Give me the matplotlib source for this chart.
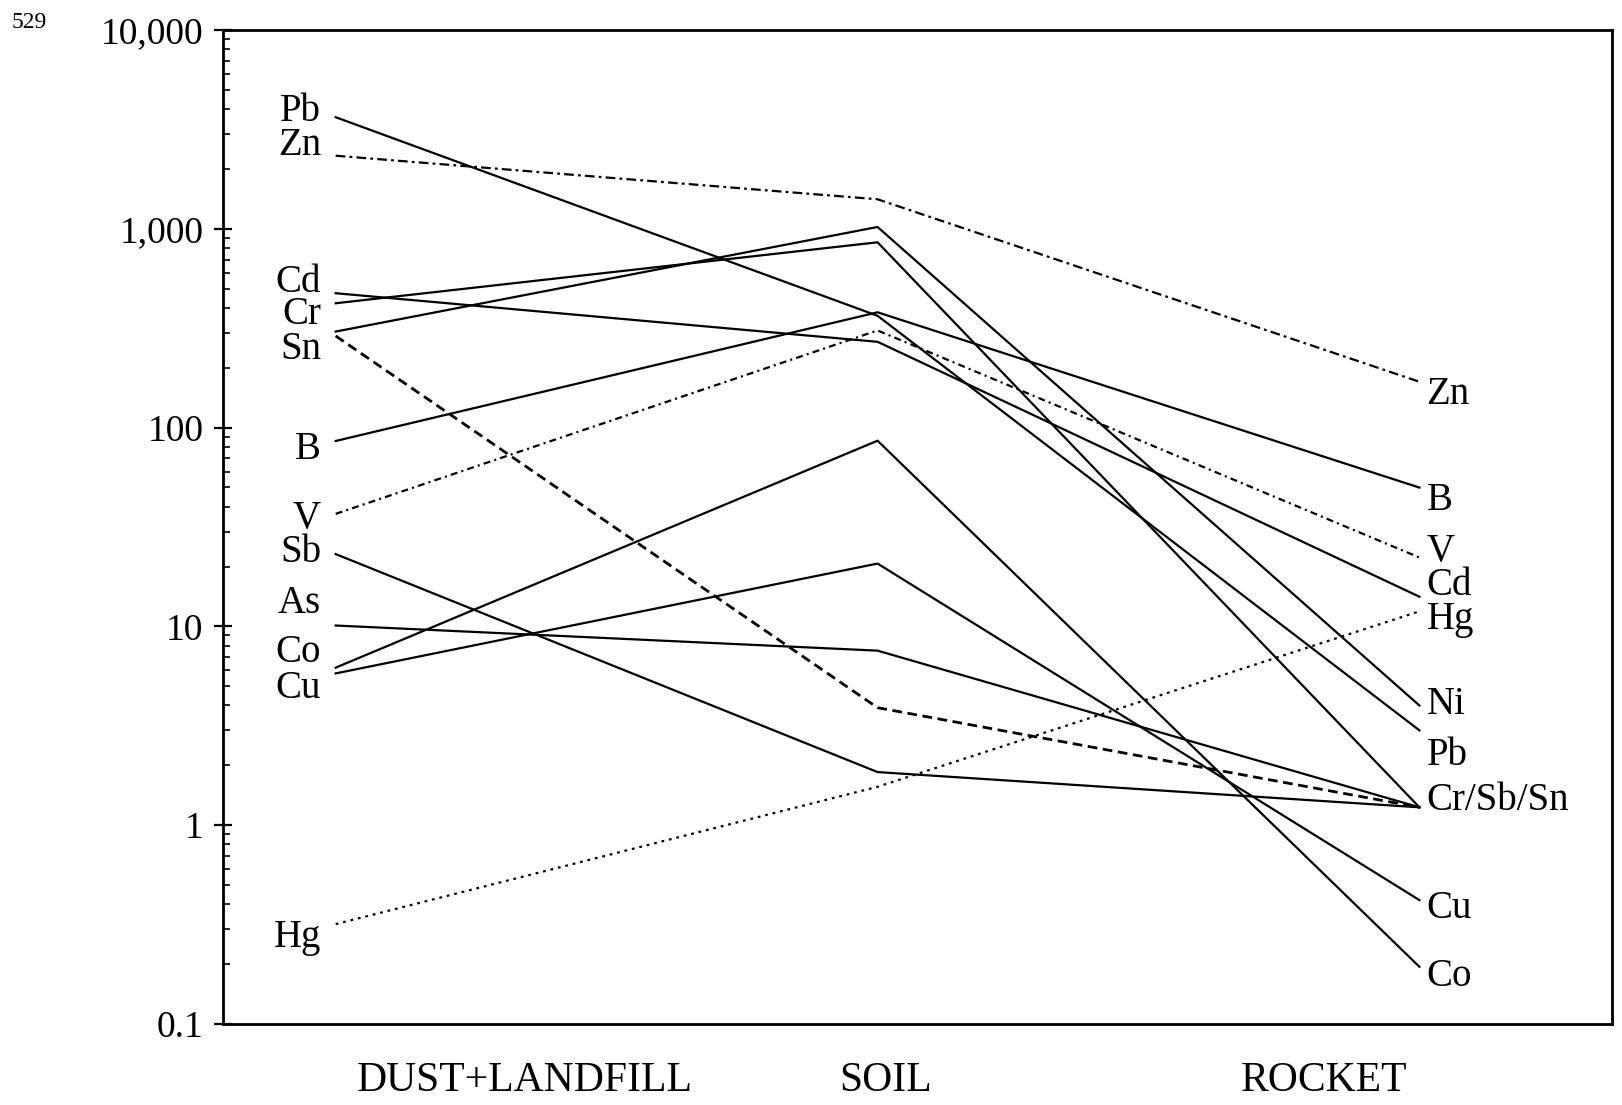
## log-scale profile of element enrichment across three sample types

import matplotlib
matplotlib.use('Agg')
import matplotlib.pyplot as plt
from matplotlib.ticker import FixedLocator, FixedFormatter, LogLocator, NullFormatter

plt.rcParams['font.family'] = ['Liberation Serif', 'DejaVu Serif']
plt.rcParams['lines.scale_dashes'] = False

categories = ['DUST+LANDFILL', 'SOIL', 'ROCKET']
cat_label_x = [0.349, 1.015, 1.823]          # where the category names sit

# values at DUST+LANDFILL, SOIL, ROCKET
Pb = [3640, 365, 3.0]
Zn = [2330, 1407, 170]
Cd = [474, 270, 14.1]
Cr = [422, 855, 1.23]
Ni = [304, 1021, 4.0]
Sn = [289, 3.9, 1.23]
B  = [85.6, 380, 49.9]
V  = [36.8, 308, 22.2]
Sb = [23.1, 1.85, 1.23]
As = [10.1, 7.55, 1.23]
Co = [6.2, 85.9, 0.194]
Cu = [5.8, 20.7, 0.42]
Hg = [0.318, 1.56, 11.9]

series = {'Pb': Pb, 'Zn': Zn, 'Cd': Cd, 'Cr': Cr, 'Ni': Ni, 'Sn': Sn, 'B': B,
          'V': V, 'Sb': Sb, 'As': As, 'Co': Co, 'Cu': Cu, 'Hg': Hg}

# line styles (everything else is solid)
styles = {'Zn': (0, (7, 3, 2, 3)),
          'V': (0, (5, 3, 1.5, 3)),
          'Sn': (0, (7, 4)),
          'Hg': (0, (2, 3.5))}

# end labels: text and the y value they are written at
left_names = ['Pb', 'Zn', 'Cd', 'Cr', 'Sn', 'B', 'V', 'Sb', 'As', 'Co', 'Cu', 'Hg']
left_y = [3500, 2350, 483, 332, 221, 69.3, 31.1, 21.0, 11.7, 6.6, 4.35, 0.245]
right_names = ['Zn', 'B', 'V', 'Cd', 'Hg', 'Ni', 'Pb', 'Cr/Sb/Sn', 'Cu', 'Co']
right_y = [131, 38.5, 21.4, 14.3, 9.7, 3.61, 2.01, 1.19, 0.34, 0.155]

yticks = [0.1, 1, 10, 100, 1000, 10000]
ytick_labels = ['0.1', '1', '10', '100', '1,000', '10,000']

fig = plt.figure(figsize=(16.22, 11.05), dpi=100)
ax = fig.add_axes([0.1373, 0.0733, 0.8564, 0.8996])

x = [0, 1, 2]
for name, vals in series.items():
    ls = styles.get(name, '-')
    lw = 2.0 if name == 'Sn' else 1.6
    ax.plot(x, vals, color='black', linestyle=ls, linewidth=lw)

for name, yv in zip(left_names, left_y):
    ax.text(-0.027, yv, name, ha='right', va='baseline', fontsize=28)
for name, yv in zip(right_names, right_y):
    ax.text(2.013, yv, name, ha='left', va='baseline', fontsize=28)

ax.set_yscale('log')
ax.set_ylim(0.1, 10000)
ax.set_xlim(-0.2085, 2.355)

ax.yaxis.set_major_locator(FixedLocator(yticks))
ax.yaxis.set_major_formatter(FixedFormatter(ytick_labels))
ax.yaxis.set_minor_locator(LogLocator(base=10, subs=range(2, 10)))
ax.yaxis.set_minor_formatter(NullFormatter())
ax.tick_params(axis='y', which='major', direction='inout', length=13, width=1.6,
               pad=7.5, labelsize=27)
ax.tick_params(axis='y', which='minor', direction='in', length=5, width=1.2)

ax.set_xticks(cat_label_x)
ax.set_xticklabels(categories)
ax.tick_params(axis='x', length=0, pad=27, labelsize=30)

for sp in ax.spines.values():
    sp.set_linewidth(2)

fig.text(12 / 1622, 1 - 12 / 1105, '529', fontsize=17, va='top')

fig.savefig('out.png', dpi=100)
